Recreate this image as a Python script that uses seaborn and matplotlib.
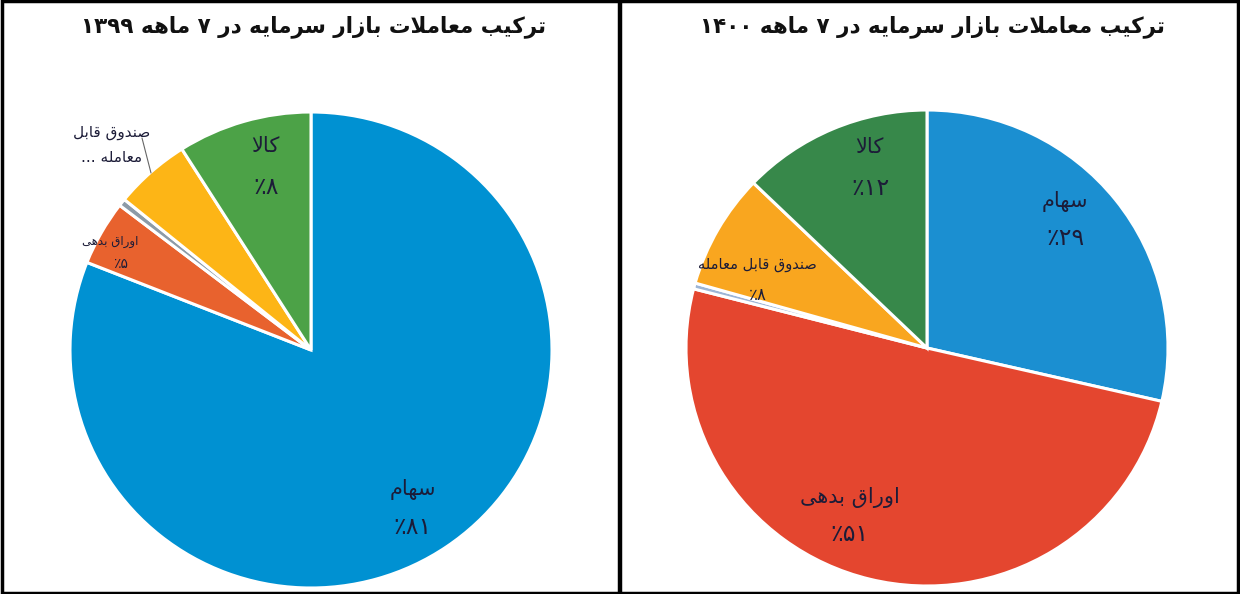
import matplotlib
matplotlib.use("Agg")
import matplotlib.pyplot as plt
import seaborn as sns
from matplotlib.patches import Rectangle
from matplotlib.lines import Line2D

# ---------------- data ----------------
categories = ["سهام", "اوراق بدهی", "سایر", "صندوق قابل معامله", "کالا"]
values_1399 = [81.0, 4.4, 0.5, 5.1, 9.0]
values_1400 = [28.6, 50.4, 0.4, 7.8, 12.8]
pct_1399 = ["٪۸۱", "٪۵", None, None, "٪۸"]
pct_1400 = ["٪۲۹", "٪۵۱", None, "٪۸", "٪۱۲"]
title_1399 = "ترکیب معاملات بازار سرمایه در ۷ ماهه ۱۳۹۹"
title_1400 = "ترکیب معاملات بازار سرمایه در ۷ ماهه ۱۴۰۰"
etf_short = "صندوق قابل\nمعامله ..."
colors_1399 = ["#0091D2", "#E8622E", "#8C9BA8", "#FDB516", "#4CA247"]
colors_1400 = ["#1B8FD1", "#E4462F", "#9DB5D6", "#F9A61F", "#37884A"]

# ---------------- Persian shaping (presentation forms + visual order) ----------------
_F = {
    'ا': ('\uFE8D', '\uFE8E'), 'د': ('\uFEA9', '\uFEAA'), 'ر': ('\uFEAD', '\uFEAE'),
    'ز': ('\uFEAF', '\uFEB0'), 'و': ('\uFEED', '\uFEEE'),
    'ب': ('\uFE8F', '\uFE90', '\uFE91', '\uFE92'), 'پ': ('\uFB56', '\uFB57', '\uFB58', '\uFB59'),
    'ت': ('\uFE95', '\uFE96', '\uFE97', '\uFE98'), 'س': ('\uFEB1', '\uFEB2', '\uFEB3', '\uFEB4'),
    'ص': ('\uFEB9', '\uFEBA', '\uFEBB', '\uFEBC'), 'ع': ('\uFEC9', '\uFECA', '\uFECB', '\uFECC'),
    'ق': ('\uFED5', '\uFED6', '\uFED7', '\uFED8'), 'ک': ('\uFB8E', '\uFB8F', '\uFB90', '\uFB91'),
    'ل': ('\uFEDD', '\uFEDE', '\uFEDF', '\uFEE0'), 'م': ('\uFEE1', '\uFEE2', '\uFEE3', '\uFEE4'),
    'ن': ('\uFEE5', '\uFEE6', '\uFEE7', '\uFEE8'), 'ه': ('\uFEE9', '\uFEEA', '\uFEEB', '\uFEEC'),
    'ی': ('\uFBFC', '\uFBFD', '\uFBFE', '\uFBFF'),
}


def _shape_word(w):
    out = []
    i, n = 0, len(w)
    while i < n:
        c = w[i]
        if c not in _F:
            out.append(c)
            i += 1
            continue
        prev = w[i - 1] if i > 0 else None
        pj = prev in _F and len(_F[prev]) == 4
        if c == 'ل' and i + 1 < n and w[i + 1] == 'ا':
            out.append('\uFEFC' if pj else '\uFEFB')
            i += 2
            continue
        nxt = w[i + 1] if i + 1 < n else None
        nj = len(_F[c]) == 4 and nxt in _F
        f = _F[c]
        if pj and nj:
            g = f[3]
        elif pj:
            g = f[1]
        elif nj:
            g = f[2]
        else:
            g = f[0]
        out.append(g)
        i += 1
    return ''.join(reversed(out))


def fa(s):
    lines = []
    for line in s.split('\n'):
        words = line.split(' ')
        lines.append(' '.join(_shape_word(w) if any(ch in _F for ch in w) else w
                              for w in reversed(words)))
    return '\n'.join(lines)


# ---------------- figure ----------------
sns.set_theme(style="white")
plt.rcParams['font.family'] = ['DejaVu Sans']
W, H = 1240, 594
fig = plt.figure(figsize=(W / 100, H / 100), dpi=100)
fig.patch.set_facecolor("white")
TXT = "#1c1c38"
PAD = 1.03


def pie_axes(cx, cy, rx, ry):
    w, h = 2 * rx * PAD, 2 * ry * PAD
    return fig.add_axes([(cx - w / 2) / W, (H - cy - h / 2) / H, w / W, h / H])


def draw_pie(ax, values, colors):
    ax.pie(values, colors=colors, startangle=90, counterclock=False,
           wedgeprops=dict(edgecolor="white", linewidth=2.2))
    ax.set_xlim(-PAD, PAD)
    ax.set_ylim(-PAD, PAD)
    ax.set_aspect("auto")
    ax.axis("off")


def px(cx, cy, rx, ry, x, y):
    return (x - cx) / rx, (cy - y) / ry


def label(ax, geo, name, pct, xy_name, xy_pct, fs_name, fs_pct):
    ax.text(*px(*geo, *xy_name), fa(name), ha="center", va="center", fontsize=fs_name, color=TXT)
    if pct:
        ax.text(*px(*geo, *xy_pct), pct, ha="center", va="center", fontsize=fs_pct, color=TXT)


# left pie (1399)
L = (311, 350, 241, 238)
axL = pie_axes(*L)
draw_pie(axL, values_1399, colors_1399)
label(axL, L, categories[0], pct_1399[0], (413, 490), (413, 527), 15, 17)
label(axL, L, categories[4], pct_1399[4], (265, 146), (266, 187), 15, 17)
label(axL, L, categories[1], pct_1399[1], (110, 242), (121, 264), 8.5, 10)
axL.text(*px(*L, 112, 145), fa(etf_short), ha="center", va="center",
         fontsize=11, color=TXT, linespacing=1.9)
axL.annotate("", xy=px(*L, 151, 173), xytext=px(*L, 142, 138),
             arrowprops=dict(arrowstyle="-", color="#666666", lw=0.8, shrinkA=0, shrinkB=0))

# right pie (1400)
R = (927, 348, 241, 238)
axR = pie_axes(*R)
draw_pie(axR, values_1400, colors_1400)
label(axR, R, categories[0], pct_1400[0], (1065, 202), (1065, 238), 15, 17)
label(axR, R, categories[4], pct_1400[4], (869, 147), (871, 188), 15, 17)
label(axR, R, categories[1], pct_1400[1], (850, 497), (850, 534), 15, 17)
label(axR, R, categories[3], pct_1400[3], (757, 265), (758, 295), 10.5, 12)

# titles
fig.text(314 / W, 1 - 27 / H, fa(title_1399), ha="center", va="center",
         fontsize=15.5, fontweight="bold", color="#111111")
fig.text(932 / W, 1 - 27 / H, fa(title_1400), ha="center", va="center",
         fontsize=15.5, fontweight="bold", color="#111111")

# frames
fig.add_artist(Rectangle((0.0015, 0.0025), 0.997, 0.995, transform=fig.transFigure,
                         fill=False, edgecolor="black", linewidth=2.5))
fig.add_artist(Line2D([620 / W, 620 / W], [0, 1], transform=fig.transFigure,
                      color="black", linewidth=3.2))

fig.savefig("out.png", dpi=100, facecolor="white")
